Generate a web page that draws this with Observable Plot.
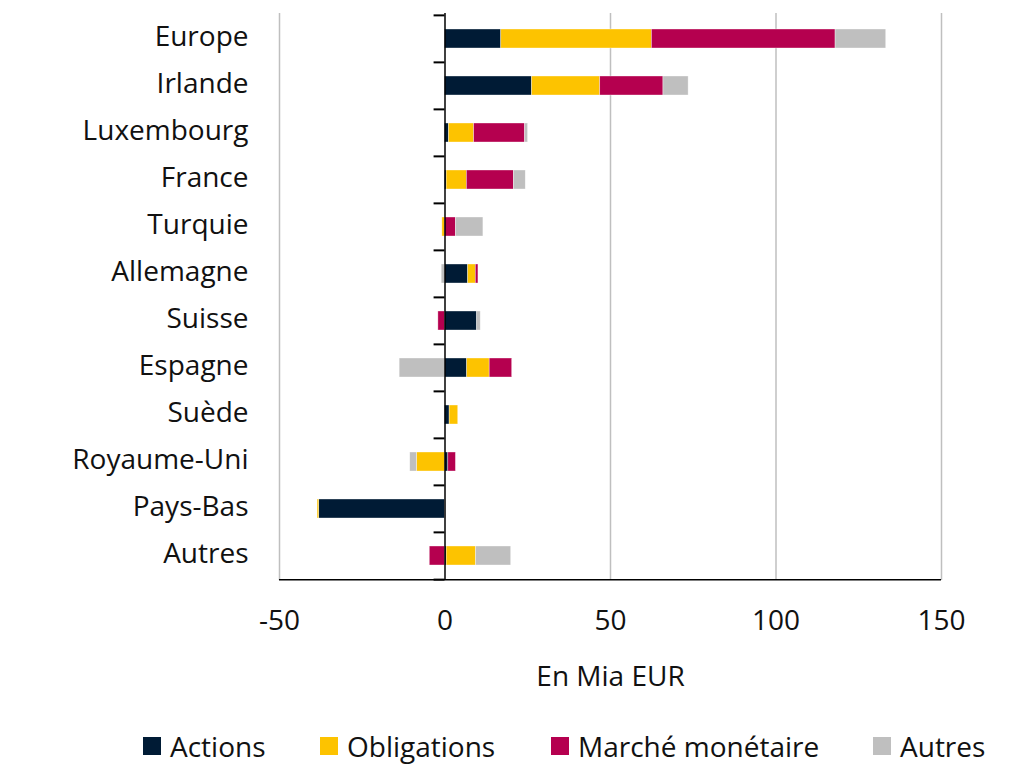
<!DOCTYPE html>
<html>
<head>
<meta charset="utf-8">
<script src="https://cdn.jsdelivr.net/npm/d3@7"></script>
<script src="https://cdn.jsdelivr.net/npm/@observablehq/plot@0.6"></script>
<style>
  body { margin: 0; background: #fff; font-family: "Open Sans", sans-serif; }
  #wrap { position: relative; width: 1032px; height: 769px; }
  #legend { position: absolute; top: 727px; left: 0; width: 1032px; height: 36px; font-size: 28px; color: #111; }
  .item { position: absolute; top: 0; display: flex; align-items: center; white-space: nowrap; }
  .sw { width: 18px; height: 18px; margin-right: 9px; display: inline-block; }
</style>
</head>
<body>
<div id="wrap"><div id="chart"></div><div id="legend"></div></div>
<script>
const countries = ["Europe", "Irlande", "Luxembourg", "France", "Turquie", "Allemagne", "Suisse", "Espagne", "Suède", "Royaume-Uni", "Pays-Bas", "Autres"];
const seriesNames = ["Actions", "Obligations", "Marché monétaire", "Autres"];
const actions     = [17.0, 26.3, 1.2, 0.5, 0.0, 7.0, 9.7, 6.7, 1.4, 1.0, -38.0, 0.5];
const obligations = [45.5, 20.6, 7.6, 6.1, -0.8, 2.3, 0.0, 6.8, 2.6, -8.5, -0.5, 8.9];
const marche      = [55.5, 19.1, 15.4, 14.2, 3.3, 0.8, -2.0, 6.8, 0.0, 2.3, 0.0, -4.6];
const autres      = [15.3, 7.6, 0.9, 3.6, 8.3, -1.0, 1.1, -13.7, 0.0, -2.0, 0.3, 10.6];
const xTicks = [-50, 0, 50, 100, 150];
const colors = ["#001b35", "#fdc300", "#b5004f", "#bfbfbf"];

const seriesValues = [actions, obligations, marche, autres];
const data = [];
seriesNames.forEach((s, i) => countries.forEach((c, j) => data.push({country: c, series: s, value: seriesValues[i][j]})));

const marginTop = 13, marginBottom = 120, height = 700;
const bandwidth = (height - marginTop - marginBottom) / countries.length;

const chart = Plot.plot({
  width: 1032,
  height,
  marginLeft: 279,
  marginRight: 91,
  marginTop,
  marginBottom,
  style: {fontFamily: "Open Sans", fontSize: "28px", color: "#111"},
  x: {domain: [-50, 150], ticks: xTicks},
  y: {domain: countries, paddingInner: 0.6, paddingOuter: 0.3},
  color: {domain: seriesNames, range: colors},
  marks: [
    Plot.ruleX([-50, 50, 100, 150], {stroke: "#bfbfbf", strokeWidth: 1.5, strokeOpacity: 1}),
    Plot.barX(data, Plot.stackX({x: "value", y: "country", fill: "series", order: seriesNames, stroke: "white", strokeWidth: 0.6, strokeOpacity: 0.6})),
    Plot.ruleX([0], {stroke: "#000", strokeWidth: 1.5}),
    Plot.ruleY(countries, {y: d => d, x1: -3.3, x2: 0, dy: -bandwidth / 2, stroke: "#000", strokeWidth: 2}),
    Plot.ruleY([countries[countries.length - 1]], {y: d => d, x1: -3.3, x2: 0, dy: bandwidth / 2, stroke: "#000", strokeWidth: 2}),
    Plot.ruleY([countries[countries.length - 1]], {y: d => d, x1: -50, x2: 150, dy: bandwidth / 2, stroke: "#000", strokeWidth: 1.5}),
    Plot.axisY({tickSize: 0, tickPadding: 31, label: null, fontSize: 28, dy: -2}),
    Plot.axisX({tickSize: 0, tickPadding: 30, ticks: xTicks, tickFormat: d => String(d), label: "En Mia EUR", labelAnchor: "center", labelOffset: 105, labelArrow: "none", fontSize: 28})
  ]
});
document.getElementById("chart").appendChild(chart);

const legend = document.getElementById("legend");
const lefts = [143, 320, 551, 873];
seriesNames.forEach((s, i) => {
  const it = document.createElement("div");
  it.className = "item";
  it.style.left = lefts[i] + "px";
  it.innerHTML = `<span class="sw" style="background:${colors[i]}"></span><span>${s}</span>`;
  legend.appendChild(it);
});
</script>
</body>
</html>
